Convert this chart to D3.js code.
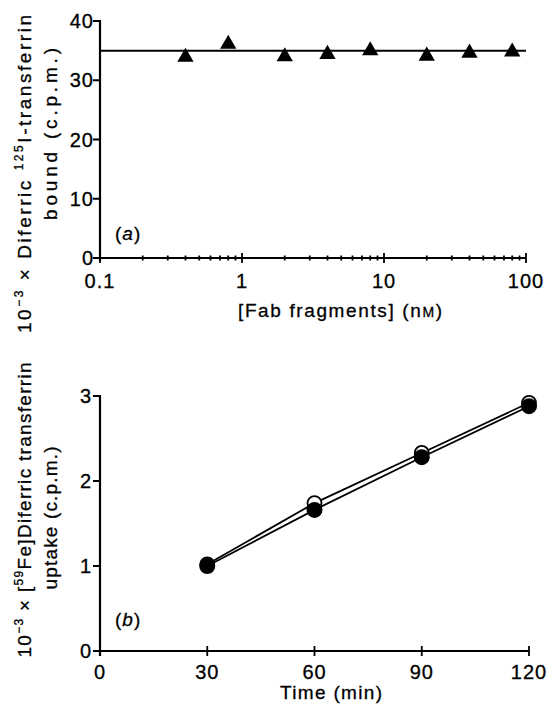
<!DOCTYPE html>
<html>
<head>
<meta charset="utf-8">
<script src="https://cdn.jsdelivr.net/npm/d3@7"></script>
<style>
  body { margin: 0; background: #fff; }
  svg text { font-family: "Liberation Sans", Arial, sans-serif; fill: #000; stroke: #000; stroke-width: 0.3px; }
</style>
</head>
<body>
<div id="chart"></div>
<script>
// panel (a) data: Fab fragment concentration (nM) vs bound (10^-3 c.p.m.)
var fabConc = [0.4, 0.8, 2, 4, 8, 20, 40, 80];
var fabBound = [33.9, 36.1, 34.0, 34.4, 35.0, 34.1, 34.6, 34.8];
var fabMean = 35;
var fabTicks = [0.1, 1, 10, 100];
var fabYTicks = [0, 10, 20, 30, 40];

// panel (b) data: time (min) vs uptake (10^-3 c.p.m.)
var times = [30, 60, 90, 120];
var uptakeOpen = [1.02, 1.74, 2.33, 2.92];
var uptakeFilled = [1.0, 1.66, 2.28, 2.88];
var timeTicks = [0, 30, 60, 90, 120];
var uptakeTicks = [0, 1, 2, 3];

var svgWidth = 552;
var svgHeight = 704;

var svg = d3.select("#chart")
  .append("svg")
  .attr("width", svgWidth)
  .attr("height", svgHeight);

var tickFont = "20px";
var labelFont = "19px";

// ---------- panel (a) ----------
var xA = d3.scaleLog().domain([0.1, 100]).range([100, 526]);
var yA = d3.scaleLinear().domain([0, 40]).range([258, 21]);

var gA = svg.append("g");

// minor ticks on log axis
var minorA = [];
[0.1, 1, 10].forEach(function(dec) {
  for (var k = 2; k <= 9; k++) minorA.push(dec * k);
});
gA.selectAll(".minor")
  .data(minorA)
  .enter()
  .append("line")
  .attr("x1", d => xA(d))
  .attr("x2", d => xA(d))
  .attr("y1", yA(0) - 2.5)
  .attr("y2", yA(0) + 2.5)
  .attr("stroke", "#000")
  .attr("stroke-width", 1.8);

gA.selectAll(".major")
  .data(fabTicks)
  .enter()
  .append("line")
  .attr("x1", d => xA(d))
  .attr("x2", d => xA(d))
  .attr("y1", yA(0) - 5)
  .attr("y2", yA(0) + 5)
  .attr("stroke", "#000")
  .attr("stroke-width", 1.8);

// axis lines
gA.append("line")
  .attr("x1", xA(0.1)).attr("x2", xA(100))
  .attr("y1", yA(0)).attr("y2", yA(0))
  .attr("stroke", "#000").attr("stroke-width", 2.2);
gA.append("line")
  .attr("x1", xA(0.1)).attr("x2", xA(0.1))
  .attr("y1", yA(40)).attr("y2", yA(0) + 3)
  .attr("stroke", "#000").attr("stroke-width", 2.2);

gA.selectAll(".ytick")
  .data(fabYTicks)
  .enter()
  .append("line")
  .attr("x1", xA(0.1) - 7)
  .attr("x2", xA(0.1) + 1)
  .attr("y1", d => yA(d))
  .attr("y2", d => yA(d))
  .attr("stroke", "#000")
  .attr("stroke-width", 2);

gA.selectAll(".ylab")
  .data(fabYTicks)
  .enter()
  .append("text")
  .attr("x", 94)
  .attr("y", d => yA(d) + 7)
  .attr("text-anchor", "end")
  .style("font-size", tickFont)
  .style("letter-spacing", "1px")
  .text(d => d);

gA.selectAll(".xlab")
  .data(fabTicks)
  .enter()
  .append("text")
  .attr("x", d => xA(d))
  .attr("y", 288)
  .attr("text-anchor", "middle")
  .style("font-size", tickFont)
  .style("letter-spacing", "1px")
  .text(d => d);

// mean line
gA.append("line")
  .attr("x1", xA(0.1)).attr("x2", xA(100))
  .attr("y1", yA(fabMean)).attr("y2", yA(fabMean))
  .attr("stroke", "#000").attr("stroke-width", 2);

gA.selectAll(".tri")
  .data(fabConc)
  .enter()
  .append("path")
  .attr("d", d3.symbol().type(d3.symbolTriangle).size(115))
  .attr("transform", (d, i) => `translate(${xA(d)}, ${yA(fabBound[i])})`)
  .attr("fill", "#000");

gA.append("text")
  .attr("x", 115)
  .attr("y", 240)
  .style("font-size", labelFont)
  .style("letter-spacing", "1px")
  .html('(<tspan font-style="italic">a</tspan>)');

// x label
var xlabA = gA.append("text")
  .attr("x", 340)
  .attr("y", 317)
  .attr("text-anchor", "middle")
  .attr("textLength", 204)
  .attr("lengthAdjust", "spacing")
  .style("font-size", labelFont);
xlabA.append("tspan").text("[Fab fragments] (n");
xlabA.append("tspan").style("font-size", "14px").text("M");
xlabA.append("tspan").text(")");

// y label
var ylabA1 = gA.append("text")
  .attr("transform", "translate(31, 174) rotate(-90)")
  .attr("text-anchor", "middle")
  .attr("textLength", 318)
  .attr("lengthAdjust", "spacing")
  .style("font-size", labelFont);
ylabA1.append("tspan").text("10");
ylabA1.append("tspan").attr("dy", -8).style("font-size", "12px").text("−3");
ylabA1.append("tspan").attr("dy", 8).text(" × Diferric ");
ylabA1.append("tspan").attr("dy", -8).style("font-size", "12px").text("125");
ylabA1.append("tspan").attr("dy", 8).text("I-transferrin");

gA.append("text")
  .attr("transform", "translate(57, 134) rotate(-90)")
  .attr("text-anchor", "middle")
  .attr("textLength", 172)
  .attr("lengthAdjust", "spacing")
  .style("font-size", labelFont)
  .text("bound (c.p.m.)");

// ---------- panel (b) ----------
var xB = d3.scaleLinear().domain([0, 120]).range([100, 529]);
var yB = d3.scaleLinear().domain([0, 3]).range([651, 396]);

var gB = svg.append("g");

gB.append("line")
  .attr("x1", xB(0)).attr("x2", xB(120))
  .attr("y1", yB(0)).attr("y2", yB(0))
  .attr("stroke", "#000").attr("stroke-width", 2.2);
gB.append("line")
  .attr("x1", xB(0)).attr("x2", xB(0))
  .attr("y1", yB(3)).attr("y2", yB(0) + 5)
  .attr("stroke", "#000").attr("stroke-width", 2.2);

gB.selectAll(".xtick")
  .data(timeTicks.slice(1))
  .enter()
  .append("line")
  .attr("x1", d => xB(d))
  .attr("x2", d => xB(d))
  .attr("y1", yB(0) - 5)
  .attr("y2", yB(0) + 5)
  .attr("stroke", "#000")
  .attr("stroke-width", 1.8);

gB.selectAll(".ytick")
  .data(uptakeTicks)
  .enter()
  .append("line")
  .attr("x1", xB(0) - 7)
  .attr("x2", xB(0) + 1)
  .attr("y1", d => yB(d))
  .attr("y2", d => yB(d))
  .attr("stroke", "#000")
  .attr("stroke-width", 2);

gB.selectAll(".ylab")
  .data(uptakeTicks)
  .enter()
  .append("text")
  .attr("x", 92)
  .attr("y", d => yB(d) + 7)
  .attr("text-anchor", "end")
  .style("font-size", tickFont)
  .style("letter-spacing", "1px")
  .text(d => d);

gB.selectAll(".xlab")
  .data(timeTicks)
  .enter()
  .append("text")
  .attr("x", d => xB(d))
  .attr("y", 679)
  .attr("text-anchor", "middle")
  .style("font-size", tickFont)
  .style("letter-spacing", "1px")
  .text(d => d);

gB.append("text")
  .attr("x", 331)
  .attr("y", 699)
  .attr("text-anchor", "middle")
  .attr("textLength", 102)
  .attr("lengthAdjust", "spacing")
  .style("font-size", labelFont)
  .text("Time (min)");

// lines
var lineB = function(vals) {
  return d3.line()
    .x((d, i) => xB(times[i]))
    .y((d, i) => yB(vals[i]))(vals);
};
gB.append("path")
  .attr("d", lineB(uptakeOpen))
  .attr("fill", "none")
  .attr("stroke", "#000")
  .attr("stroke-width", 1.8);
gB.append("path")
  .attr("d", lineB(uptakeFilled))
  .attr("fill", "none")
  .attr("stroke", "#000")
  .attr("stroke-width", 1.8);

gB.selectAll(".open")
  .data(times)
  .enter()
  .append("circle")
  .attr("cx", d => xB(d))
  .attr("cy", (d, i) => yB(uptakeOpen[i]))
  .attr("r", 7)
  .attr("fill", "#fff")
  .attr("stroke", "#000")
  .attr("stroke-width", 1.8);

gB.selectAll(".filled")
  .data(times)
  .enter()
  .append("circle")
  .attr("cx", d => xB(d))
  .attr("cy", (d, i) => yB(uptakeFilled[i]))
  .attr("r", 8)
  .attr("fill", "#000");

gB.append("text")
  .attr("x", 115)
  .attr("y", 626)
  .style("font-size", labelFont)
  .style("letter-spacing", "1px")
  .html('(<tspan font-style="italic">b</tspan>)');

var ylabB1 = gB.append("text")
  .attr("transform", "translate(31, 510) rotate(-90)")
  .attr("text-anchor", "middle")
  .attr("textLength", 295)
  .attr("lengthAdjust", "spacing")
  .style("font-size", labelFont);
ylabB1.append("tspan").text("10");
ylabB1.append("tspan").attr("dy", -8).style("font-size", "12px").text("−3");
ylabB1.append("tspan").attr("dy", 8).text(" × [");
ylabB1.append("tspan").attr("dy", -8).style("font-size", "12px").text("59");
ylabB1.append("tspan").attr("dy", 8).text("Fe]Diferric transferrin");

gB.append("text")
  .attr("transform", "translate(57, 518) rotate(-90)")
  .attr("text-anchor", "middle")
  .attr("textLength", 143)
  .attr("lengthAdjust", "spacing")
  .style("font-size", labelFont)
  .text("uptake (c.p.m.)");
</script>
</body>
</html>
